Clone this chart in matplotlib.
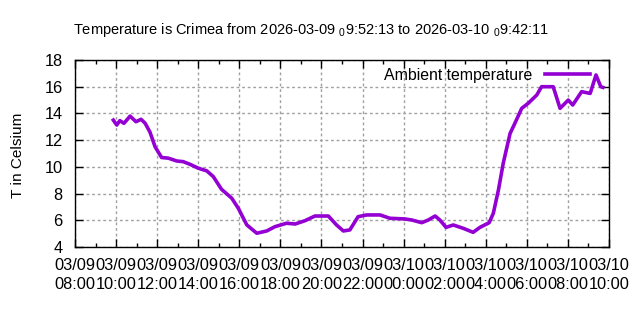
import numpy as np
import matplotlib
matplotlib.use("Agg")
import matplotlib.pyplot as plt
import matplotlib.dates as mdates

plt.rcParams.update({
    "font.family": "Liberation Sans", "font.size": 11,
    "mathtext.fontset": "custom", "mathtext.rm": "Liberation Sans",
    "mathtext.it": "Liberation Sans", "mathtext.default": "rm",
})

# readings (time, degrees C)
TIMES = [
    "2026-03-09T09:52", "2026-03-09T10:02", "2026-03-09T10:11", "2026-03-09T10:23",
    "2026-03-09T10:41", "2026-03-09T10:58", "2026-03-09T11:13", "2026-03-09T11:25",
    "2026-03-09T11:39", "2026-03-09T11:54", "2026-03-09T12:13", "2026-03-09T12:33",
    "2026-03-09T12:57", "2026-03-09T13:16", "2026-03-09T13:36", "2026-03-09T14:00",
    "2026-03-09T14:25", "2026-03-09T14:44", "2026-03-09T15:08", "2026-03-09T15:38",
    "2026-03-09T15:57", "2026-03-09T16:22", "2026-03-09T16:51", "2026-03-09T17:20",
    "2026-03-09T17:44", "2026-03-09T18:18", "2026-03-09T18:43", "2026-03-09T19:12",
    "2026-03-09T19:41", "2026-03-09T20:20", "2026-03-09T20:44", "2026-03-09T21:04",
    "2026-03-09T21:23", "2026-03-09T21:47", "2026-03-09T22:12", "2026-03-09T22:51",
    "2026-03-09T23:20", "2026-03-10T00:04", "2026-03-10T00:24", "2026-03-10T00:53",
    "2026-03-10T01:12", "2026-03-10T01:32", "2026-03-10T01:46", "2026-03-10T02:04",
    "2026-03-10T02:25", "2026-03-10T02:54", "2026-03-10T03:23", "2026-03-10T03:43",
    "2026-03-10T04:10", "2026-03-10T04:22", "2026-03-10T04:37", "2026-03-10T04:51",
    "2026-03-10T05:11", "2026-03-10T05:25", "2026-03-10T05:45", "2026-03-10T06:04",
    "2026-03-10T06:29", "2026-03-10T06:43", "2026-03-10T07:17", "2026-03-10T07:37",
    "2026-03-10T08:01", "2026-03-10T08:14", "2026-03-10T08:40", "2026-03-10T09:05",
    "2026-03-10T09:22", "2026-03-10T09:36", "2026-03-10T09:42",
]
TEMPS = [
    13.5, 13.13, 13.46, 13.26, 13.8, 13.38, 13.56, 13.26,
    12.6, 11.5, 10.7, 10.65, 10.44, 10.39, 10.19, 9.9,
    9.7, 9.27, 8.32, 7.65, 6.9, 5.65, 5.03, 5.2,
    5.52, 5.78, 5.72, 5.97, 6.32, 6.32, 5.65, 5.2,
    5.28, 6.27, 6.4, 6.4, 6.15, 6.1, 6.02, 5.82,
    6.02, 6.32, 6.02, 5.47, 5.65, 5.4, 5.1, 5.47,
    5.82, 6.52, 8.27, 10.27, 12.5, 13.26, 14.38, 14.76,
    15.38, 16.0, 16.0, 14.38, 15.0, 14.63, 15.63, 15.5,
    16.88, 16.0, 15.95,
]
X_START, X_END = "2026-03-09T08:00", "2026-03-10T10:00"
TITLE = "Temperature is Crimea from 2026-03-09 $_0$9:52:13 to 2026-03-10 $_0$9:42:11"

t = np.array(TIMES, dtype="datetime64[m]").astype("O")

fig = plt.figure(figsize=(6.4, 3.2), dpi=100)
ax = fig.add_axes([75 / 640, 1 - 247 / 320, 534 / 640, 187 / 320])

ax.plot(t, TEMPS, color="#9400D3", lw=2.6, label="Ambient temperature")

ax.set_xlim(np.datetime64(X_START).astype("O"), np.datetime64(X_END).astype("O"))
ax.set_ylim(4, 18)
ax.set_yticks(np.arange(4, 19, 2))
ax.xaxis.set_major_locator(mdates.HourLocator(byhour=range(0, 24, 2)))
ax.xaxis.set_minor_locator(mdates.HourLocator())
ax.xaxis.set_major_formatter(mdates.DateFormatter("%m/%d\n%H:%M"))

ax.tick_params(which="both", direction="in", top=True, right=True, width=1)
ax.tick_params(which="major", length=6, labelsize=11.8)
ax.tick_params(which="minor", length=3)
ax.tick_params(axis="y", pad=9)
ax.tick_params(axis="x", pad=8)
for lbl in ax.get_xticklabels():
    lbl.set_linespacing(1.3)
ax.grid(which="major", color="#a0a0a0", ls=(0, (2, 2)), lw=1)
for s in ax.spines.values():
    s.set_linewidth(1)

ax.set_ylabel("T in Celsium", fontsize=11.1)
ax.yaxis.set_label_coords(-50 / 534, 0.49)
fig.text(311 / 640, 1 - 30 / 320, TITLE, ha="center", va="center", fontsize=10.5)

ax.legend(loc="upper right", bbox_to_anchor=((598 - 75) / 534, 1.0), frameon=False,
          markerfirst=False, handlelength=2.84, handletextpad=0.82,
          borderaxespad=0.1, fontsize=11.4)

fig.savefig("out.png", dpi=100)
